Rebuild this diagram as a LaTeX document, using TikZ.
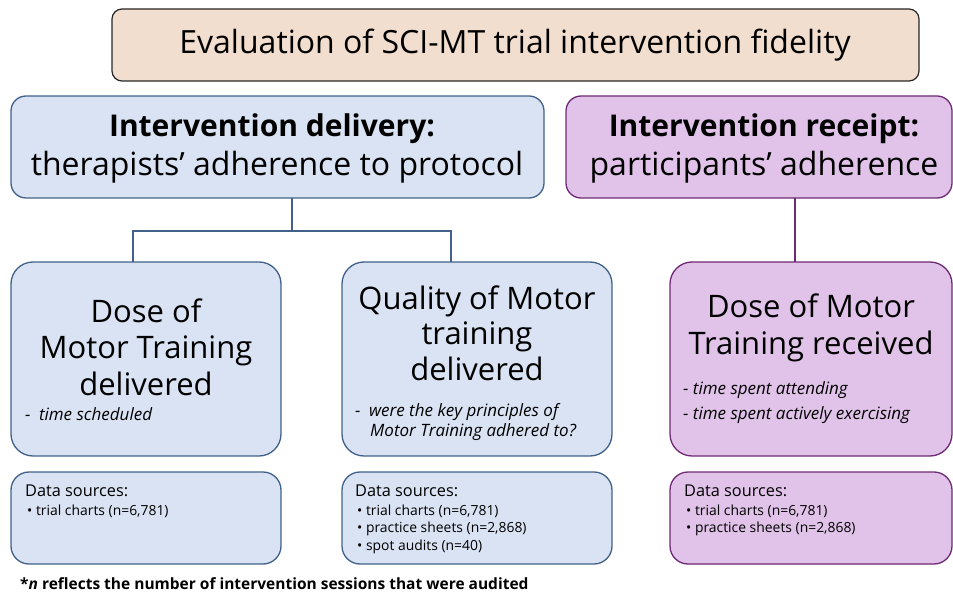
\documentclass[tikz,border=0pt]{standalone}
\usepackage{fontspec}
\setmainfont{Open Sans}
\begin{document}
\begin{tikzpicture}[x=1pt,y=-1pt,
  box/.style={draw, line width=1.3pt, rounded corners=#1},
  bluebox/.style={box=#1, draw=blueline, fill=bluefill},
  purplebox/.style={box=#1, draw=purpleline, fill=purplefill},
  link/.style={line width=1.6pt},
  txt/.style={inner sep=0pt, text=black},
  headb/.style={txt, font=\fontsize{30}{34}\selectfont\bfseries},
  head/.style={txt, font=\fontsize{32}{36}\selectfont},
  big/.style={txt, align=center, font=\fontsize{31}{36.5}\selectfont},
  note/.style={txt, anchor=west, font=\fontsize{17}{20}\selectfont\itshape},
  srchead/.style={txt, anchor=west, font=\fontsize{16.3}{19}\selectfont},
  srcitem/.style={txt, anchor=west, font=\fontsize{13.9}{16}\selectfont}
]
\definecolor{bluefill}{HTML}{DAE3F3}
\definecolor{blueline}{HTML}{41618A}
\definecolor{purplefill}{HTML}{E1C3E9}
\definecolor{purpleline}{HTML}{6E2A74}
\definecolor{tanfill}{HTML}{F2DECE}

\useasboundingbox (0,0) rectangle (953,593);

% title
\draw[box=10pt, draw=black!85, fill=tanfill, line width=1.2pt] (112,9) rectangle (919,81);
\node[txt, font=\fontsize{32}{36}\selectfont] (title) at (515,45) {Evaluation of SCI-MT trial intervention fidelity};

% second level: delivery and receipt
\draw[bluebox=15pt] (11,96) rectangle (544,198);
\node[headb] (delivh) at (272,129) {Intervention delivery:};
\node[head] (delivs) at (277,167) {therapists’ adherence to protocol};

\draw[purplebox=15pt] (566,96) rectangle (952,198);
\node[headb] (recpth) at (764,129) {Intervention receipt:};
\node[head] (recpts) at (764,167) {participants’ adherence};

% connectors
\coordinate (delivbot) at (292,198);
\coordinate (split) at (292,231);
\coordinate (doseTop) at (133,262);
\coordinate (qualTop) at (451,262);
\draw[link, blueline] (delivbot) -- (split);
\draw[link, blueline] (doseTop) |- (split) -| (qualTop);
\coordinate (recptbot) at (795,198);
\coordinate (dosrTop) at (795,262);
\draw[link, purpleline] (recptbot) -- (dosrTop);

% third level boxes
\draw[bluebox=22pt] (11,262) rectangle (281,456);
\node[big] (dosed) at (146,347) {Dose of\\Motor Training\\delivered};
\node[note] (dosednote) at (25,414) {-\enspace time scheduled};

\draw[bluebox=22pt] (342,262) rectangle (612,456);
\node[big, font=\fontsize{31}{35.5}\selectfont] (qual) at (477,333) {Quality of Motor\\training\\delivered};
\node[note] (qualnote1) at (355,412) {-\enspace were the key principles of};
\node[note] (qualnote2) at (370,432) {Motor Training adhered to?};

\draw[purplebox=22pt] (670,262) rectangle (952,456);
\node[big] (dosr) at (811,328) {Dose of Motor\\Training received};
\node[note] (dosrnote1) at (683,390) {- time spent attending};
\node[note] (dosrnote2) at (683,415) {- time spent actively exercising};

% data source boxes
\draw[bluebox=18pt] (11,472) rectangle (281,564);
\node[srchead] (src1) at (25,491) {Data sources:};
\node[srcitem] (src1a) at (27,511) {• trial charts (n=6,781)};

\draw[bluebox=18pt] (342,472) rectangle (612,564);
\node[srchead] (src2) at (355,491) {Data sources:};
\node[srcitem] (src2a) at (357,511) {• trial charts (n=6,781)};
\node[srcitem] (src2b) at (357,529) {• practice sheets (n=2,868)};
\node[srcitem] (src2c) at (357,547) {• spot audits (n=40)};

\draw[purplebox=18pt] (670,472) rectangle (952,564);
\node[srchead] (src3) at (684,491) {Data sources:};
\node[srcitem] (src3a) at (686,511) {• trial charts (n=6,781)};
\node[srcitem] (src3b) at (686,529) {• practice sheets (n=2,868)};

% footnote
\node[txt, anchor=west, font=\fontsize{15.5}{18}\selectfont\bfseries] (foot) at (20,584) {*\textit{n} reflects the number of intervention sessions that were audited};
\end{tikzpicture}
\end{document}
